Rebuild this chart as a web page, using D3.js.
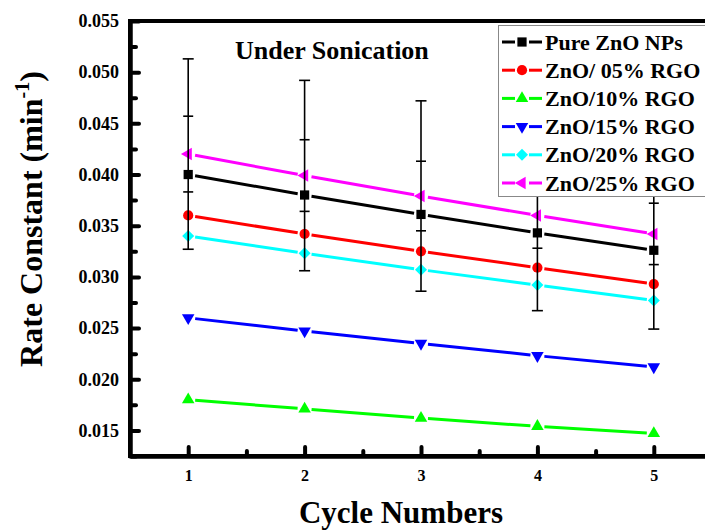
<!DOCTYPE html>
<html>
<head>
<meta charset="utf-8">
<script src="https://cdn.jsdelivr.net/npm/d3@7"></script>
<style>
  html, body { margin: 0; padding: 0; background: #fff; }
  svg { display: block; }
  text { font-family: "Liberation Serif", "Times New Roman", Times, serif; font-weight: bold; fill: #000; }
</style>
</head>
<body>
<svg id="chart" width="705" height="531"></svg>
<script>
// Cycle numbers on the x axis
const cycles = [1, 2, 3, 4, 5];

// Rate constants (min^-1) per cycle for each sample
const pureZnO   = [0.0400, 0.0380, 0.0361, 0.0343, 0.0326];
const rgo05     = [0.0360, 0.0342, 0.0325, 0.0309, 0.0293];
const rgo10     = [0.0180, 0.0171, 0.0162, 0.0154, 0.0147];
const rgo15     = [0.0260, 0.0247, 0.0235, 0.0223, 0.0212];
const rgo20     = [0.0340, 0.0323, 0.0307, 0.0292, 0.0277];
const rgo25     = [0.0420, 0.0399, 0.0379, 0.0360, 0.0342];

// Error bars (drawn in black around the 25% RGO points)
const errOuter  = [0.0093, 0.0093, 0.0093, 0.0093, 0.0093];
const errInner  = [0.0037, 0.0035, 0.0034, 0.0032, 0.0030];

const seriesNames  = ["Pure ZnO NPs", "ZnO/ 05% RGO", "ZnO/10% RGO", "ZnO/15% RGO", "ZnO/20% RGO", "ZnO/25% RGO"];
const seriesValues = [pureZnO, rgo05, rgo10, rgo15, rgo20, rgo25];
const seriesColors = ["#000000", "#ff0000", "#00ff00", "#0000ff", "#00ffff", "#ff00ff"];
const seriesShapes = ["square", "circle", "triUp", "triDown", "diamond", "triLeft"];

const yTicks      = [0.015, 0.020, 0.025, 0.030, 0.035, 0.040, 0.045, 0.050, 0.055];
const yMinorTicks = [0.0125, 0.0175, 0.0225, 0.0275, 0.0325, 0.0375, 0.0425, 0.0475, 0.0525];
const xMinorTicks = [1.5, 2.5, 3.5, 4.5];

const svg = d3.select("#chart");
const plotL = 130, plotR = 712, plotT = 21, plotB = 456;

const x = d3.scaleLinear().domain([0.5, 5.5]).range([plotL, plotR]);
const y = d3.scaleLinear().domain([0.0125, 0.055]).range([plotB, plotT]);

// marker path generators
function markerPath(shape) {
  switch (shape) {
    case "square":  return { d: d3.symbol(d3.symbolSquare, 85)(),   rot: 0 };
    case "circle":  return { d: d3.symbol(d3.symbolCircle, 82)(),   rot: 0 };
    case "triUp":   return { d: d3.symbol(d3.symbolTriangle, 68)(), rot: 0 };
    case "triDown": return { d: d3.symbol(d3.symbolTriangle, 68)(), rot: 180 };
    case "diamond": return { d: d3.symbol(d3.symbolSquare, 72)(),   rot: 45 };
    case "triLeft": return { d: d3.symbol(d3.symbolTriangle, 68)(), rot: -90 };
  }
}

// ---- axes ----
const yAxis = d3.axisLeft(y).tickValues(yTicks).tickFormat(d3.format(".3f"))
  .tickSizeInner(-9).tickSizeOuter(0).tickPadding(11);
const yMinor = d3.axisLeft(y).tickValues(yMinorTicks).tickFormat("")
  .tickSizeInner(-6).tickSizeOuter(0);
const xAxis = d3.axisBottom(x).tickValues(cycles).tickFormat(d3.format("d"))
  .tickSizeInner(-9).tickSizeOuter(0).tickPadding(14);
const xMinor = d3.axisBottom(x).tickValues(xMinorTicks).tickFormat("")
  .tickSizeInner(-5).tickSizeOuter(0);

function styleAxis(g, fs) {
  g.select(".domain").attr("stroke", "#000").attr("stroke-width", 4);
  g.selectAll(".tick line").attr("stroke", "#000").attr("stroke-width", 4).attr("stroke-linecap", "round");
  g.selectAll(".tick text").attr("font-size", fs)
    .attr("font-family", "'Liberation Serif', 'Times New Roman', serif").attr("font-weight", "bold");
}

const gy = svg.append("g").attr("transform", `translate(${plotL},0)`).call(yAxis);
styleAxis(gy, 18);
const gym = svg.append("g").attr("transform", `translate(${plotL},0)`).call(yMinor);
styleAxis(gym, 18);
const gx = svg.append("g").attr("transform", `translate(0,${plotB})`).call(xAxis);
styleAxis(gx, 16);
const gxm = svg.append("g").attr("transform", `translate(0,${plotB})`).call(xMinor);
styleAxis(gxm, 16);

// frame top and right
svg.append("path")
  .attr("d", `M${plotL - 2},${plotT} H${plotR} V${plotB}`)
  .attr("fill", "none").attr("stroke", "#000").attr("stroke-width", 4);
svg.append("line").attr("x1", plotL).attr("x2", plotL).attr("y1", plotT - 2).attr("y2", plotB + 2)
  .attr("stroke", "#000").attr("stroke-width", 4);
svg.append("line").attr("x1", plotL - 2).attr("x2", plotR).attr("y1", plotB).attr("y2", plotB)
  .attr("stroke", "#000").attr("stroke-width", 4);

// ---- series lines (segments stop short of each symbol) ----
const gap = 7;
seriesValues.forEach((vals, si) => {
  const g = svg.append("g");
  for (let i = 0; i < vals.length - 1; i++) {
    const x1 = x(cycles[i]), y1 = y(vals[i]), x2 = x(cycles[i + 1]), y2 = y(vals[i + 1]);
    const len = Math.hypot(x2 - x1, y2 - y1), ux = (x2 - x1) / len, uy = (y2 - y1) / len;
    g.append("line")
      .attr("x1", x1 + ux * gap).attr("y1", y1 + uy * gap)
      .attr("x2", x2 - ux * gap).attr("y2", y2 - uy * gap)
      .attr("stroke", seriesColors[si]).attr("stroke-width", 3);
  }
});

// ---- symbols ----
seriesValues.forEach((vals, si) => {
  const m = markerPath(seriesShapes[si]);
  svg.append("g").selectAll("path").data(vals).join("path")
    .attr("d", m.d)
    .attr("transform", (d, i) => `translate(${x(cycles[i])},${y(d)}) rotate(${m.rot})`)
    .attr("fill", seriesColors[si]);
});

// ---- error bars ----
const eb = svg.append("g").attr("stroke", "#000").attr("stroke-width", 1.6);
rgo25.forEach((v, i) => {
  const cx = x(cycles[i]);
  eb.append("line").attr("x1", cx).attr("x2", cx)
    .attr("y1", y(v + errOuter[i])).attr("y2", y(v - errOuter[i]));
  [v + errOuter[i], v - errOuter[i]].forEach(e =>
    eb.append("line").attr("x1", cx - 5.5).attr("x2", cx + 5.5).attr("y1", y(e)).attr("y2", y(e)));
  [v + errInner[i], v - errInner[i]].forEach(e =>
    eb.append("line").attr("x1", cx - 5).attr("x2", cx + 5).attr("y1", y(e)).attr("y2", y(e)));
});

// ---- legend ----
const lg = svg.append("g");
lg.append("rect").attr("x", 498.5).attr("y", 25.5).attr("width", 212).attr("height", 171)
  .attr("fill", "#fff").attr("stroke", "#888").attr("stroke-width", 1);
seriesNames.forEach((name, si) => {
  const cy = 42 + si * 28.2;
  const m = markerPath(seriesShapes[si]);
  lg.append("line").attr("x1", 502).attr("x2", 515).attr("y1", cy).attr("y2", cy)
    .attr("stroke", seriesColors[si]).attr("stroke-width", 3);
  lg.append("line").attr("x1", 529).attr("x2", 542).attr("y1", cy).attr("y2", cy)
    .attr("stroke", seriesColors[si]).attr("stroke-width", 3);
  lg.append("path").attr("d", m.d)
    .attr("transform", `translate(522,${cy}) rotate(${m.rot})`)
    .attr("fill", seriesColors[si]);
  lg.append("text").attr("x", 545).attr("y", cy + 7.5).attr("font-size", 22).text(name);
});

// ---- annotation and titles ----
svg.append("text").attr("x", 235).attr("y", 59).attr("font-size", 26).text("Under Sonication");

svg.append("text").attr("x", 401).attr("y", 523).attr("text-anchor", "middle")
  .attr("font-size", 31).text("Cycle Numbers");

const yt = svg.append("text")
  .attr("transform", "translate(42,219) rotate(-90)")
  .attr("text-anchor", "middle").attr("font-size", 32);
yt.append("tspan").text("Rate Constant (min");
yt.append("tspan").attr("font-size", 20).attr("dy", -13).text("-1");
yt.append("tspan").attr("dy", 13).text(")");
</script>
</body>
</html>
